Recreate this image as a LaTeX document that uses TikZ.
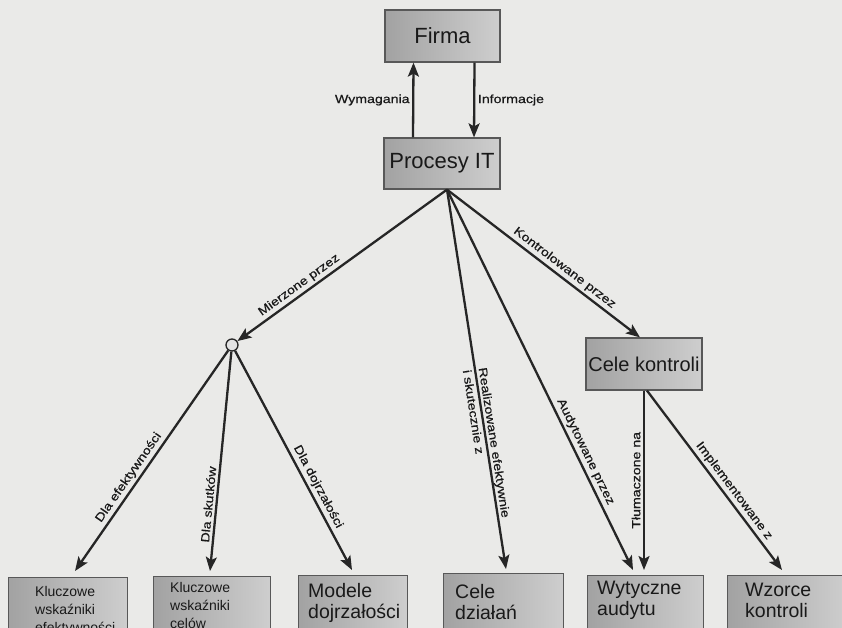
\documentclass[tikz,border=0pt]{standalone}
\usepackage{fontspec}
\setmainfont{Liberation Sans}
\newfontfamily\lblfont[FakeStretch=1.2,FakeBold=0.6]{Liberation Sans}
\usetikzlibrary{arrows.meta,calc}
\definecolor{paper}{RGB}{234,234,232}
\definecolor{ink}{RGB}{38,38,38}
\definecolor{boxline}{RGB}{88,88,88}
\definecolor{boxdark}{RGB}{162,162,162}
\definecolor{boxlight}{RGB}{206,206,206}
\begin{document}
\begin{tikzpicture}[x=1pt,y=-1pt,
  box/.style={draw=boxline, line width=1.2pt, left color=boxdark, right color=boxlight, inner sep=0pt},
  bigtxt/.style={font=\fontsize{22}{26}\selectfont, text=black!90},
  midtxt/.style={font=\fontsize{19.5}{21}\selectfont, text=black!90, align=left, inner sep=0pt, anchor=north west},
  smalltxt/.style={font=\fontsize{14}{18}\selectfont, text=black!90, align=left, inner sep=0pt, anchor=north west},
  conn/.style={draw=ink, line width=2.3pt, -{Stealth[length=14pt,width=11pt,inset=3pt]}},
  lbl/.style={font=\lblfont\fontsize{11.8}{16}\selectfont, text=black!90, inner sep=2.5pt},
]
\useasboundingbox (0,0) rectangle (842,628);
\clip (0,0) rectangle (842,628);
\fill[paper] (0,0) rectangle (842,628);

% upper boxes
\node[box, bigtxt, minimum width=115pt, minimum height=52pt] (firma) at (442.5,36) {Firma};
\node[box, bigtxt, minimum width=116pt, minimum height=51pt] (proc) at (442,163.5) {Procesy IT};
\node[box, font=\fontsize{20}{24}\selectfont, text=black!90, minimum width=116pt, minimum height=52pt] (ctl) at (644,364) {Cele kontroli};

% measurement hub
\node[circle, draw=ink, line width=1.3pt, fill=gray!22, minimum size=12pt, inner sep=0pt] (hub) at (232,345) {};

% bottom boxes (they run past the lower edge)
\node[box, minimum width=119pt, minimum height=64pt, anchor=north west] (b1) at (8,577) {};
\node[box, minimum width=117pt, minimum height=64pt, anchor=north west] (b2) at (153,576) {};
\node[box, minimum width=109pt, minimum height=64pt, anchor=north west] (b3) at (298,575) {};
\node[box, minimum width=120pt, minimum height=64pt, anchor=north west] (b4) at (443,573) {};
\node[box, minimum width=116pt, minimum height=64pt, anchor=north west] (b5) at (587,575) {};
\node[box, minimum width=120pt, minimum height=64pt, anchor=north west] (b6) at (727,575) {};

\node[smalltxt] (t1) at (35,586) {Kluczowe\\wskaźniki\\efektywności};
\node[smalltxt] (t2) at (170,582) {Kluczowe\\wskaźniki\\celów};
\node[midtxt] (t3) at (308,583) {Modele\\dojrzałości};
\node[midtxt] (t4) at (455,584) {Cele\\działań};
\node[midtxt] (t5) at (597,581) {Wytyczne\\audytu};
\node[midtxt] (t6) at (745,583) {Wzorce\\kontroli};

% Firma <-> Procesy IT
\draw[conn] ([xshift=-29pt]proc.north) -- ([xshift=-29pt]firma.south)
  node[lbl, midway, left] {Wymagania};
\draw[conn] ([xshift=32pt]firma.south) -- ([xshift=32pt]proc.north)
  node[lbl, midway, right] {Informacje};

% fan out of Procesy IT
\coordinate (fan) at ([xshift=5pt]proc.south);
\draw[conn] (fan) -- (hub)
  node[lbl, sloped, above, pos=0.68] {Mierzone przez};
\draw[conn] (fan) -- ([xshift=-4pt]ctl.north)
  node[lbl, sloped, above, pos=0.58] {Kontrolowane przez};
\draw[conn] (fan) -- ($(b4.north west)+(63,-4)$)
  node[lbl, sloped, pos=0.67, align=left] {Realizowane efektywnie\\i skutecznie z};
\draw[conn] (fan) -- ($(b5.north west)+(46,-5)$)
  node[lbl, sloped, above, pos=0.7] {Audytowane przez};

% from the hub
\draw[conn] (hub) -- ($(b1.north west)+(67,-6)$)
  node[lbl, sloped, above, pos=0.6] {Dla efektywności};
\draw[conn] (hub) -- ($(b2.north west)+(57,-5)$)
  node[lbl, sloped, above, pos=0.7] {Dla skutków};
\draw[conn] (hub) -- ($(b3.north west)+(54,-5)$)
  node[lbl, sloped, above, pos=0.64] {Dla dojrzałości};

% from Cele kontroli
\draw[conn] (ctl.south) -- ($(b5.north west)+(57,-5)$)
  node[lbl, pos=0.5, rotate=90, anchor=south] {Tłumaczone na};
\draw[conn] ([xshift=3pt]ctl.south) -- ($(b6.north west)+(55,-5)$)
  node[lbl, sloped, above, pos=0.59] {Implementowane z};
\end{tikzpicture}
\end{document}
